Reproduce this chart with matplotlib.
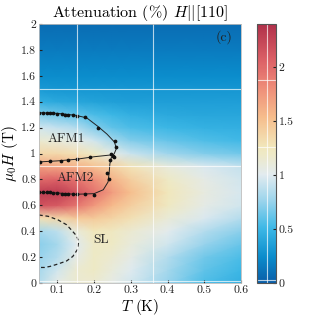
import matplotlib
matplotlib.use("Agg")
import matplotlib.pyplot as plt
import numpy as np
from matplotlib.colors import LinearSegmentedColormap


# DATOS

T_GRID = [0.05, 0.1, 0.15, 0.2, 0.25, 0.3, 0.4, 0.5, 0.6]
H_GRID = [0.0, 0.1, 0.2, 0.3, 0.4, 0.5, 0.6, 0.7, 0.8, 0.9,
          1.0, 1.1, 1.2, 1.3, 1.4, 1.5, 1.6, 1.8, 2.0]

# atenuación (%) por fila de campo, columnas en T_GRID
ATT_H00 = [0.85, 1.05, 1.15, 1.15, 1.05, 0.95, 0.75, 0.55, 0.45]
ATT_H01 = [0.80, 0.95, 1.15, 1.20, 1.10, 1.00, 0.80, 0.60, 0.50]
ATT_H02 = [0.75, 0.85, 1.05, 1.20, 1.15, 1.05, 0.85, 0.65, 0.55]
ATT_H03 = [0.72, 0.80, 1.00, 1.20, 1.20, 1.10, 0.95, 0.75, 0.62]
ATT_H04 = [0.80, 0.88, 1.10, 1.25, 1.22, 1.15, 1.02, 0.85, 0.72]
ATT_H05 = [1.30, 1.35, 1.45, 1.45, 1.38, 1.30, 1.12, 0.98, 0.85]
ATT_H06 = [2.15, 2.10, 1.95, 1.75, 1.55, 1.42, 1.22, 1.05, 0.95]
ATT_H07 = [2.30, 2.30, 2.15, 1.95, 1.72, 1.52, 1.25, 1.08, 0.97]
ATT_H08 = [2.00, 2.05, 1.95, 1.80, 1.60, 1.42, 1.20, 1.05, 0.95]
ATT_H09 = [1.70, 1.65, 1.60, 1.50, 1.40, 1.28, 1.10, 0.98, 0.90]
ATT_H10 = [1.35, 1.35, 1.30, 1.20, 1.05, 0.92, 0.78, 0.70, 0.65]
ATT_H11 = [1.15, 1.10, 1.05, 0.95, 0.80, 0.70, 0.62, 0.56, 0.52]
ATT_H12 = [0.95, 0.90, 0.85, 0.70, 0.60, 0.55, 0.50, 0.46, 0.45]
ATT_H13 = [0.70, 0.65, 0.60, 0.55, 0.50, 0.45, 0.42, 0.40, 0.40]
ATT_H14 = [0.45, 0.42, 0.40, 0.38, 0.36, 0.35, 0.35, 0.35, 0.35]
ATT_H15 = [0.32, 0.30, 0.30, 0.30, 0.30, 0.30, 0.30, 0.30, 0.30]
ATT_H16 = [0.25, 0.25, 0.25, 0.25, 0.25, 0.25, 0.25, 0.25, 0.25]
ATT_H18 = [0.15, 0.15, 0.15, 0.15, 0.15, 0.15, 0.15, 0.15, 0.15]
ATT_H20 = [0.08, 0.08, 0.08, 0.08, 0.08, 0.08, 0.08, 0.08, 0.08]

# puntos medidos de las transiciones
T_SUP = [0.051, 0.062, 0.071, 0.080, 0.089, 0.100, 0.112, 0.121, 0.130,
         0.142, 0.153, 0.175, 0.211, 0.257, 0.261]
H_SUP = [1.315, 1.31, 1.31, 1.31, 1.31, 1.305, 1.305, 1.30, 1.30,
         1.295, 1.29, 1.284, 1.20, 1.10, 1.05]

T_MED = [0.052, 0.08, 0.11, 0.13, 0.153, 0.19, 0.245, 0.252, 0.254, 0.243]
H_MED = [0.935, 0.94, 0.945, 0.95, 0.955, 0.975, 0.995, 0.98, 0.97, 0.95]

T_INF = [0.051, 0.062, 0.071, 0.080, 0.089, 0.100, 0.112, 0.121, 0.130,
         0.142, 0.153, 0.175, 0.200, 0.236, 0.241]
H_INF = [0.70, 0.70, 0.70, 0.70, 0.695, 0.695, 0.69, 0.685, 0.685,
         0.685, 0.685, 0.685, 0.68, 0.85, 0.80]

# líneas guía
T_GUIA = [0.05, 0.10, 0.15, 0.18, 0.21, 0.235, 0.255, 0.261, 0.255, 0.247,
          0.243, 0.241, 0.238, 0.225, 0.20, 0.15, 0.10, 0.05]
H_GUIA = [1.315, 1.31, 1.295, 1.275, 1.21, 1.15, 1.09, 1.04, 1.00, 0.97,
          0.92, 0.85, 0.78, 0.72, 0.69, 0.685, 0.695, 0.70]
T_GUIA_MED = [0.05, 0.10, 0.15, 0.20, 0.25]
H_GUIA_MED = [0.935, 0.943, 0.955, 0.975, 0.99]

T_SL = [0.05, 0.075, 0.102, 0.125, 0.138, 0.152, 0.158, 0.155, 0.142,
        0.125, 0.102, 0.08, 0.065, 0.05]
H_SL = [0.525, 0.515, 0.487, 0.45, 0.41, 0.365, 0.32, 0.26, 0.205,
        0.17, 0.147, 0.128, 0.12, 0.12]

CBAR_TICKS = [0, 0.5, 1, 1.5, 2]
X_TICKS = [0.1, 0.2, 0.3, 0.4, 0.5, 0.6]
Y_TICKS = [0, 0.2, 0.4, 0.6, 0.8, 1.0, 1.2, 1.4, 1.6, 1.8, 2.0]


# ESTILO

plt.rcParams["font.family"] = ["serif"]
plt.rcParams["font.serif"] = ["cmr10", "DejaVu Serif"]
plt.rcParams["mathtext.fontset"] = "cm"
plt.rcParams["axes.formatter.use_mathtext"] = True
plt.rcParams["axes.unicode_minus"] = False

cmap = LinearSegmentedColormap.from_list(
    "atenuacion",
    [
        (0.00, "#0a5ea8"),
        (0.10, "#0a8ccc"),
        (0.21, "#3db8e6"),
        (0.32, "#9dd5ec"),
        (0.42, "#e2ebef"),
        (0.52, "#f1e8bc"),
        (0.64, "#f6bd8c"),
        (0.76, "#ee8b78"),
        (0.86, "#dc6066"),
        (1.00, "#b0304a"),
    ]
)

VMAX = 2.4

Z = np.array([
    ATT_H00, ATT_H01, ATT_H02, ATT_H03, ATT_H04, ATT_H05, ATT_H06,
    ATT_H07, ATT_H08, ATT_H09, ATT_H10, ATT_H11, ATT_H12, ATT_H13,
    ATT_H14, ATT_H15, ATT_H16, ATT_H18, ATT_H20,
])
TT, HH = np.meshgrid(T_GRID, H_GRID)


# FIGURA

fig = plt.figure(figsize=(3.19, 3.19), dpi=100)
ax = fig.add_axes([39 / 319, 36 / 319, 202 / 319, 259 / 319])
cax = fig.add_axes([257 / 319, 36 / 319, 19 / 319, 259 / 319])

malla = ax.pcolormesh(
    TT, HH, Z,
    shading="gouraud",
    cmap=cmap,
    vmin=0,
    vmax=VMAX,
    rasterized=True
)

ax.plot(T_GUIA, H_GUIA, color="#222222", lw=0.7)
ax.plot(T_GUIA_MED, H_GUIA_MED, color="#222222", lw=0.7)
ax.plot(T_SL, H_SL, color="#222222", lw=0.9, ls=(0, (3, 2.2)))

for t, h in [(T_SUP, H_SUP), (T_MED, H_MED), (T_INF, H_INF)]:
    ax.plot(t, h, ls="none", marker="o", ms=1.7, color="#111111")

# líneas blancas del original
for x in [0.153, 0.36]:
    ax.axvline(x, color="white", lw=0.8, alpha=0.7)
for y in [0.015, 0.906, 1.5]:
    ax.axhline(y, color="white", lw=0.8, alpha=0.7)

ax.text(0.123, 1.11, "AFM1", fontsize=9.5, ha="center", va="center",
        color="#222222")
ax.text(0.148, 0.81, "AFM2", fontsize=9.5, ha="center", va="center",
        color="#222222")
ax.text(0.219, 0.33, "SL", fontsize=9.5, ha="center", va="center",
        color="#222222")
ax.text(0.555, 1.9, "(c)", fontsize=10, ha="center", va="center",
        color="#222222")

ax.set_xlim(0.05, 0.6)
ax.set_ylim(0, 2)
ax.set_xticks(X_TICKS)
ax.set_yticks(Y_TICKS)
ax.set_xticklabels([f"{v:g}" for v in X_TICKS])
ax.set_yticklabels([f"{v:g}" for v in Y_TICKS])
ax.tick_params(direction="in", length=2.5, width=0.8, labelsize=8.5,
               colors="#222222", pad=2)
for lado in ax.spines.values():
    lado.set_color("#bbbbbb")
    lado.set_linewidth(0.6)

ax.set_xlabel(r"$T$ (K)", fontsize=11, labelpad=1)
ax.set_ylabel(r"$\mu_0 H$ (T)", fontsize=11, labelpad=1)
ax.set_title(r"Attenuation (%) $H||[110]$", fontsize=11.5, pad=5)

cbar = fig.colorbar(malla, cax=cax, ticks=CBAR_TICKS)
cbar.ax.set_yticklabels([f"{v:g}" for v in CBAR_TICKS])
cbar.ax.tick_params(direction="in", length=2.5, width=0.8, labelsize=8.5,
                    colors="#222222", pad=2)
cbar.outline.set_edgecolor("#555555")
cbar.outline.set_linewidth(0.8)
cax.axvline(0.5, color="white", lw=0.8, alpha=0.7)
cax.axhline(1.88, color="white", lw=0.8, alpha=0.7)
cax.axhline(1.26, color="white", lw=0.8, alpha=0.7)
cax.axhline(0.03, color="white", lw=0.8, alpha=0.7)

fig.savefig("out.png", dpi=100)
